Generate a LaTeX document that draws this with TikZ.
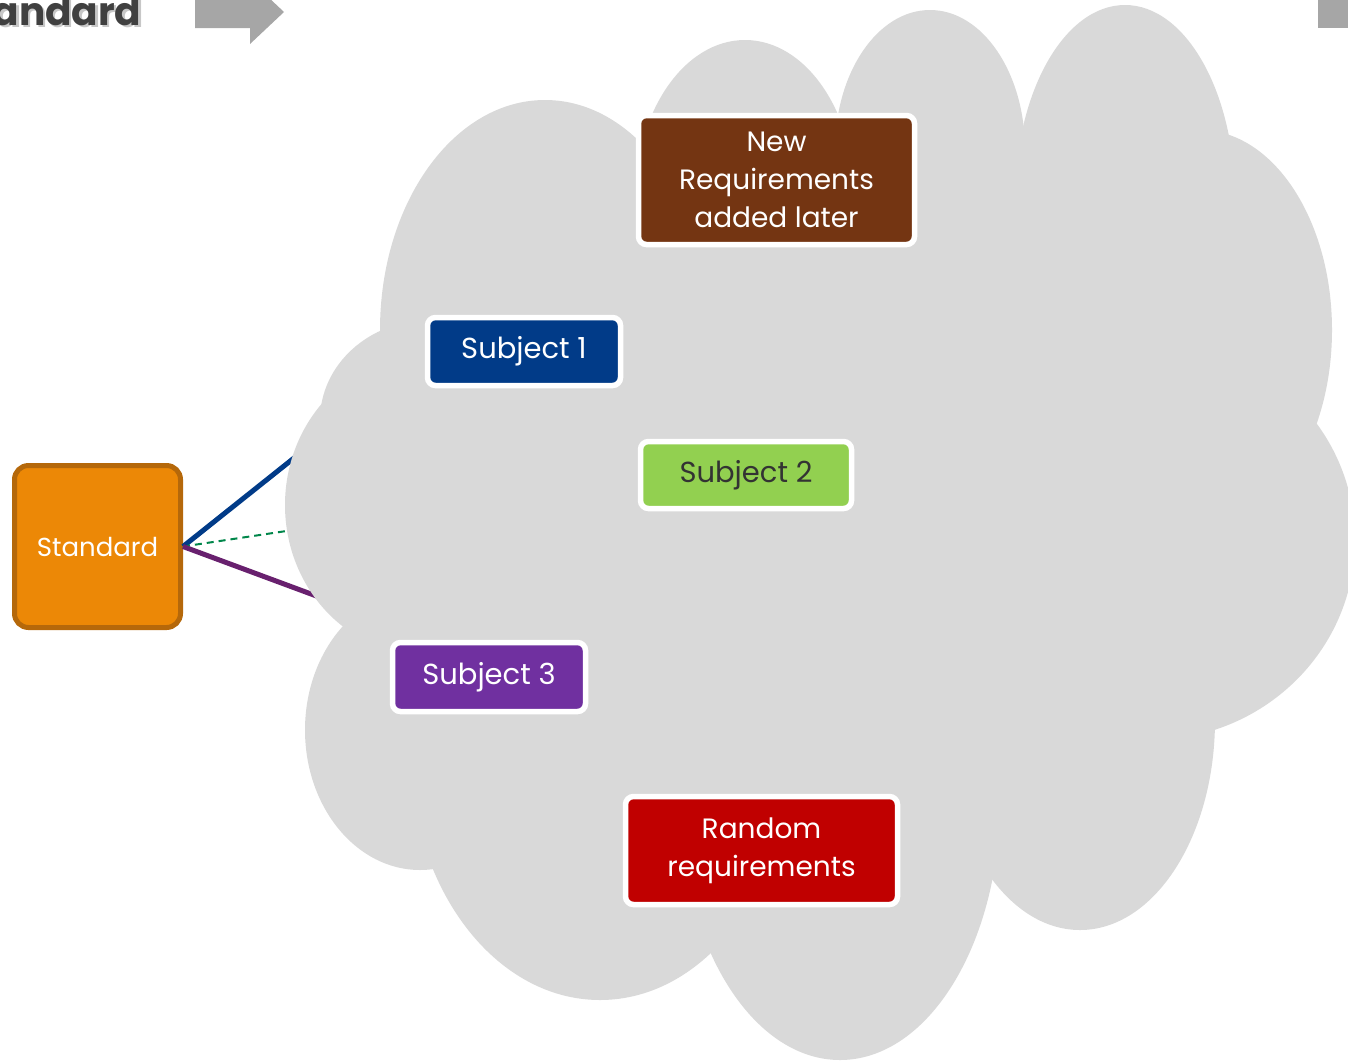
\documentclass[tikz,border=0pt]{standalone}
\usepackage{fontspec}
\setmainfont{Poppins}
\definecolor{cloudgray}{HTML}{D9D9D9}
\definecolor{stdorange}{HTML}{EC8806}
\definecolor{stdborder}{HTML}{B5680A}
\definecolor{newbrown}{HTML}{743512}
\definecolor{subjblue}{HTML}{013B88}
\definecolor{subjgreen}{HTML}{92D050}
\definecolor{subjpurple}{HTML}{7030A0}
\definecolor{randred}{HTML}{C00000}
\definecolor{arrowgray}{HTML}{A6A6A6}
\definecolor{titlegray}{HTML}{404040}
\definecolor{linegreen}{HTML}{00864A}
\definecolor{linepurple}{HTML}{68206E}
\definecolor{darktext}{HTML}{333333}
\begin{document}
\begin{tikzpicture}[x=1pt,y=-1pt,
  reqbox/.style={rounded corners=8pt,draw=white,line width=5.5pt,text=white,align=center,
    inner sep=0pt,font=\fontsize{28}{38}\selectfont},
  subjbox/.style={reqbox,font=\fontsize{29}{36}\selectfont},
  stdbox/.style={rounded corners=14pt,draw=stdborder,fill=stdorange,line width=5pt,text=white,
    inner sep=0pt,font=\fontsize{26}{32}\selectfont},
  link/.style={line width=5pt}
]
\useasboundingbox (0,0) rectangle (1348,1061);
% header fragments
\node[anchor=base east,font=\bfseries\fontsize{39}{41}\selectfont,text=black!22] at (147.5,27.5) {Standard};
\node[anchor=base east,font=\bfseries\fontsize{39}{41}\selectfont,text=titlegray] (title) at (145,25) {Standard};
\fill[arrowgray] (195,-4) -- (250,-4) -- (250,-20) -- (284,12) -- (250,44) -- (250,28) -- (195,28) -- cycle;
\fill[arrowgray] (1318,-2) rectangle (1348,28);
% standard box
\node[stdbox,minimum width=166pt,minimum height=162pt] (std) at (97.5,546.5) {Standard};
% node centres and hidden connector end
\coordinate (s1c) at (524,351.5);
\coordinate (s2c) at (746,475);
\coordinate (s3c) at (489,677);
\coordinate (s3end) at (392,624);
% connectors (behind the cloud)
\draw[link,subjblue] (std.east) -- (427,352);
\draw[linegreen,line width=2pt,dash pattern=on 7pt off 5pt] (std.east) -- (640,478);
\draw[link,linepurple] (std.east) -- (s3end);
% cloud
\begin{scope}[fill=cloudgray]
\fill (545,330) ellipse [x radius=165, y radius=230];
\fill (745,200) ellipse [x radius=110, y radius=160];
\fill (930,150) ellipse [x radius=95, y radius=140];
\fill (1125,200) ellipse [x radius=110, y radius=195];
\fill (1200,330) ellipse [x radius=132, y radius=200];
\fill (1150,540) ellipse [x radius=205, y radius=200];
\fill (1080,720) ellipse [x radius=135, y radius=210];
\fill (840,800) ellipse [x radius=160, y radius=260];
\fill (600,750) ellipse [x radius=190, y radius=250];
\fill (420,730) ellipse [x radius=115, y radius=140];
\fill (425,505) ellipse [x radius=140, y radius=150];
\fill (430,420) ellipse [x radius=110, y radius=100];
\fill (800,520) ellipse [x radius=450, y radius=380];
\end{scope}
% requirement boxes
\node[reqbox,fill=newbrown,minimum width=276pt,minimum height=129pt] (new) at (776.5,180)
  {New\\Requirements\\added later};
\node[subjbox,fill=subjblue,minimum width=193pt,minimum height=68pt] (s1) at (s1c) {Subject 1};
\node[subjbox,fill=subjgreen,text=darktext,minimum width=211pt,minimum height=67pt] (s2) at (s2c) {Subject 2};
\node[subjbox,fill=subjpurple,minimum width=193pt,minimum height=69pt] (s3) at (s3c) {Subject 3};
\node[reqbox,fill=randred,minimum width=272pt,minimum height=108pt] (rand) at (761.5,850.5)
  {Random\\requirements};
\end{tikzpicture}
\end{document}
